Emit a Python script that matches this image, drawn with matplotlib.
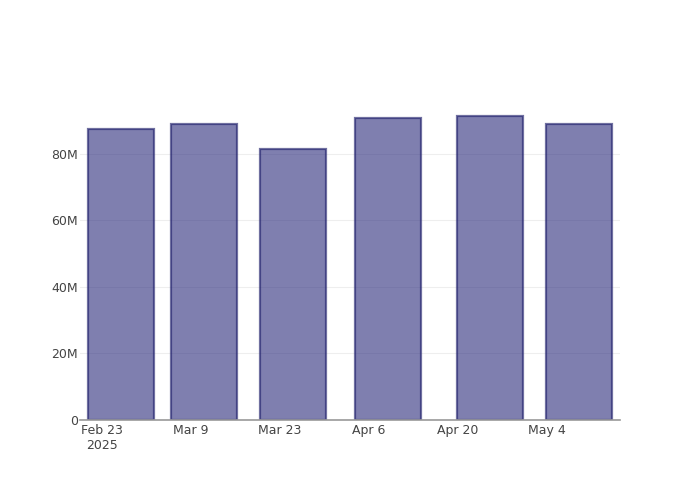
import matplotlib
matplotlib.use("Agg")
import matplotlib.pyplot as plt
import matplotlib.dates as mdates
import numpy as np
from datetime import datetime, timedelta

# Data
dates = ["2025-02-26", "2025-03-11", "2025-03-25", "2025-04-09", "2025-04-25", "2025-05-09"]
values = [87.4e6, 88.9e6, 81.6e6, 90.9e6, 91.4e6, 88.9e6]
tick_dates = ["2025-02-23", "2025-03-09", "2025-03-23", "2025-04-06", "2025-04-20", "2025-05-04"]
tick_labels = ["Feb 23\n2025", "Mar 9", "Mar 23", "Apr 6", "Apr 20", "May 4"]
y_ticks = [0, 20e6, 40e6, 60e6, 80e6]
y_tick_labels = ["0", "20M", "40M", "60M", "80M"]

x = [datetime.strptime(d, "%Y-%m-%d") for d in dates]
xt = [datetime.strptime(d, "%Y-%m-%d") for d in tick_dates]

fig = plt.figure(figsize=(7, 5), dpi=100)
ax = fig.add_axes([80/700, 80/500, 540/700, 320/500])

ax.bar(mdates.date2num(x), values, width=10.4,
       color=(42/255, 42/255, 123/255, 0.6),
       edgecolor=(35/255, 35/255, 110/255, 0.65), linewidth=1.6, zorder=3)

base = mdates.date2num(datetime(2025, 2, 23))
ax.set_xlim(base - 3.46, base + 81.48)
ax.set_ylim(0, 96.2e6)

ax.set_xticks(mdates.date2num(xt))
ax.set_xticklabels(tick_labels, fontsize=9, color="#444444", linespacing=1.15)
ax.set_yticks(y_ticks)
ax.set_yticklabels(y_tick_labels, fontsize=9, color="#444444")
ax.tick_params(axis="both", length=0)
ax.tick_params(axis="x", pad=3)
ax.tick_params(axis="y", pad=1.5)

ax.grid(axis="y", color="#eeeeee", linewidth=0.8, zorder=0)
for s in ["top", "right", "left"]:
    ax.spines[s].set_visible(False)
ax.spines["bottom"].set_color("#999999")
ax.spines["bottom"].set_linewidth(1.2)
ax.spines["bottom"].set_zorder(4)

fig.savefig("out.png", dpi=100)
